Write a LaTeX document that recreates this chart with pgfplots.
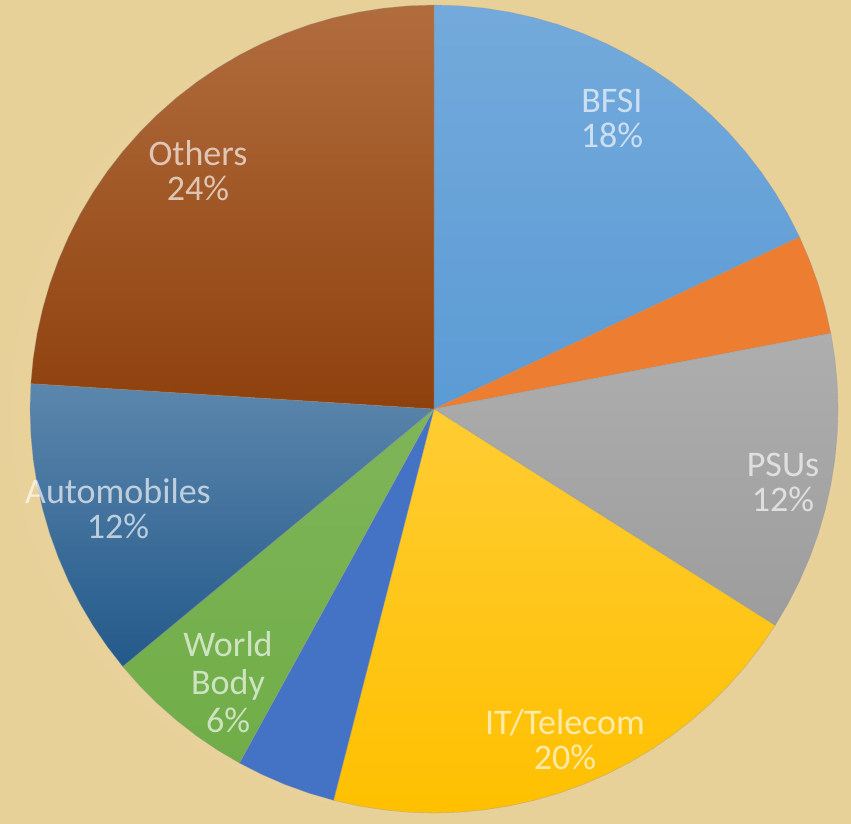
\documentclass[border=0pt]{standalone}
\usepackage{pgfplots}
\pgfplotsset{compat=1.18}
\usepackage{fontspec}
\setmainfont{Carlito}
\definecolor{bgin}{HTML}{F0DDAE}
\definecolor{bgout}{HTML}{E8D199}
\definecolor{cbfsi}{HTML}{5B9BD5}
\definecolor{corange}{HTML}{ED7D31}
\definecolor{cpsu}{HTML}{A5A5A5}
\definecolor{cit}{HTML}{FFC000}
\definecolor{cblue}{HTML}{4472C4}
\definecolor{cworld}{HTML}{70AD47}
\definecolor{cauto}{HTML}{255E91}
\definecolor{cothers}{HTML}{9E480E}
\begin{document}
\begin{tikzpicture}
\begin{axis}[
    x=202pt, y=202pt,
    xmin=-1.0743, xmax=1.0322,
    ymin=-1.0248, ymax=1.0124,
    scale only axis,
    hide axis,
    axis background/.style={inner color=bgin, outer color=bgout},
    every axis plot/.append style={draw=black!40, draw opacity=0.35, line width=0.4pt},
]
% slices in polar coordinates (angle in degrees, radius), clockwise from the top
% BFSI 18%
\addplot[data cs=polar, top color=cbfsi!85!white, bottom color=cbfsi] coordinates {
  (0,0) (90,1) (86.4,1) (82.8,1) (79.2,1) (75.6,1) (72,1) (68.4,1) (64.8,1) (61.2,1)
  (57.6,1) (54,1) (50.4,1) (46.8,1) (43.2,1) (39.6,1) (36,1) (32.4,1) (28.8,1) (25.2,1) (0,0)
};
% unlabelled 4%
\addplot[data cs=polar, fill=corange] coordinates {
  (0,0) (25.2,1) (21.6,1) (18,1) (14.4,1) (10.8,1) (0,0)
};
% PSUs 12%
\addplot[data cs=polar, top color=cpsu!90!white, bottom color=cpsu!95!black] coordinates {
  (0,0) (10.8,1) (7.2,1) (3.6,1) (0,1) (-3.6,1) (-7.2,1) (-10.8,1) (-14.4,1) (-18,1)
  (-21.6,1) (-25.2,1) (-28.8,1) (-32.4,1) (0,0)
};
% IT/Telecom 20%
\addplot[data cs=polar, top color=cit!80!white, bottom color=cit] coordinates {
  (0,0) (-32.4,1) (-36,1) (-39.6,1) (-43.2,1) (-46.8,1) (-50.4,1) (-54,1) (-57.6,1)
  (-61.2,1) (-64.8,1) (-68.4,1) (-72,1) (-75.6,1) (-79.2,1) (-82.8,1) (-86.4,1) (-90,1)
  (-93.6,1) (-97.2,1) (-100.8,1) (-104.4,1) (0,0)
};
% unlabelled 4%
\addplot[data cs=polar, fill=cblue] coordinates {
  (0,0) (-104.4,1) (-108,1) (-111.6,1) (-115.2,1) (-118.8,1) (0,0)
};
% World Body 6%
\addplot[data cs=polar, top color=cworld!90!white, bottom color=cworld] coordinates {
  (0,0) (-118.8,1) (-122.4,1) (-126,1) (-129.6,1) (-133.2,1) (-136.8,1) (-140.4,1) (0,0)
};
% Automobiles 12%
\addplot[data cs=polar, top color=cauto!75!white, bottom color=cauto!95!black] coordinates {
  (0,0) (-140.4,1) (-144,1) (-147.6,1) (-151.2,1) (-154.8,1) (-158.4,1) (-162,1)
  (-165.6,1) (-169.2,1) (-172.8,1) (-176.4,1) (-180,1) (-183.6,1) (0,0)
};
% Others 24%
\addplot[data cs=polar, top color=cothers!80!white, bottom color=cothers!90!black] coordinates {
  (0,0) (-183.6,1) (-187.2,1) (-190.8,1) (-194.4,1) (-198,1) (-201.6,1) (-205.2,1)
  (-208.8,1) (-212.4,1) (-216,1) (-219.6,1) (-223.2,1) (-226.8,1) (-230.4,1) (-234,1)
  (-237.6,1) (-241.2,1) (-244.8,1) (-248.4,1) (-252,1) (-255.6,1) (-259.2,1) (-262.8,1)
  (-266.4,1) (-270,1) (0,0)
};
\tikzset{lbl/.style={text=white, text opacity=0.65, align=center, font=\fontsize{18}{17.5}\selectfont}}
\node[lbl] at (axis cs:0.4405,0.7200) {BFSI\\18\%};
\node[lbl] at (axis cs:-0.5842,0.5890) {Others\\24\%};
\node[lbl] at (axis cs:-0.7822,-0.2475) {Automobiles\\12\%};
\node[lbl, font=\fontsize{18}{19}\selectfont] at (axis cs:-0.5099,-0.6750) {World\\Body\\6\%};
\node[lbl] at (axis cs:0.3243,-0.8180) {IT/Telecom\\20\%};
\node[lbl] at (axis cs:0.8639,-0.1820) {PSUs\\12\%};
\end{axis}
\end{tikzpicture}
\end{document}
